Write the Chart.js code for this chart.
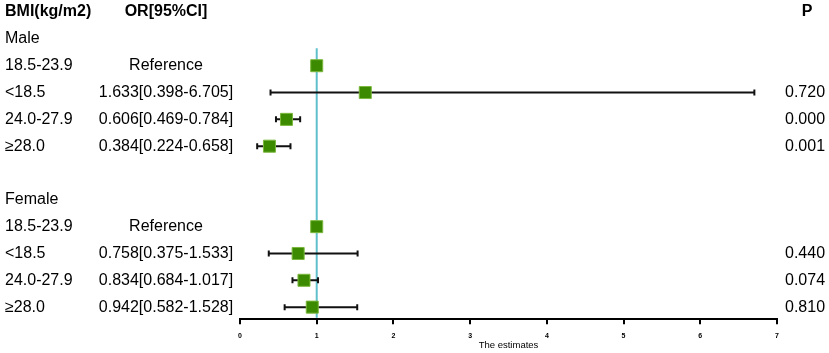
<!DOCTYPE html>
<html>
<head>
<meta charset="utf-8">
<script src="https://cdn.jsdelivr.net/npm/chart.js@4.4.1/dist/chart.umd.min.js"></script>
<style>
  body { margin: 0; background: #fff; }
  #wrap { width: 829px; height: 353px; }
</style>
</head>
<body>
<div id="wrap"><canvas id="forest"></canvas></div>
<script>
// rows from top to bottom, index = row position on the y scale
const rowNames = ['BMI(kg/m2)', 'Male', '18.5-23.9', '<18.5', '24.0-27.9', '≥28.0', '', 'Female', '18.5-23.9', '<18.5', '24.0-27.9', '≥28.0'];
const orText = ['OR[95%CI]', '', 'Reference', '1.633[0.398-6.705]', '0.606[0.469-0.784]', '0.384[0.224-0.658]', '', '', 'Reference', '0.758[0.375-1.533]', '0.834[0.684-1.017]', '0.942[0.582-1.528]'];
const pText = ['P', '', '', '0.720', '0.000', '0.001', '', '', '', '0.440', '0.074', '0.810'];
const estimate = [null, null, 1, 1.633, 0.606, 0.384, null, null, 1, 0.758, 0.834, 0.942];
const lower = [null, null, null, 0.398, 0.469, 0.224, null, null, null, 0.375, 0.684, 0.582];
const upper = [null, null, null, 6.705, 0.784, 0.658, null, null, null, 1.533, 1.017, 1.528];
const xTicks = [0, 1, 2, 3, 4, 5, 6, 7];
const refValue = 1;

const pointData = [];
const ciData = [];
estimate.forEach(function(v, i) {
    if (v !== null) pointData.push({x: v, y: i});
    if (lower[i] !== null) {
        ciData.push({x: lower[i], y: i}, {x: upper[i], y: i}, {x: null, y: null});
    }
});

const font = '"Liberation Sans", Arial, sans-serif';

// text columns drawn next to the plot, rows placed with the y scale
const textColumns = {
    id: 'textColumns',
    afterDraw(chart) {
        const ctx = chart.ctx;
        const y = chart.scales.y;
        ctx.save();
        ctx.fillStyle = '#000';
        ctx.textBaseline = 'middle';
        rowNames.forEach(function(name, i) {
            const py = y.getPixelForValue(i);
            ctx.font = (i === 0 ? 'bold ' : '') + '16px ' + font;
            ctx.textAlign = 'left';
            ctx.fillText(name, 5, py);
            ctx.textAlign = 'center';
            ctx.fillText(orText[i], 166, py);
            if (i === 0) {
                ctx.fillText(pText[i], 807, py);
            } else {
                ctx.textAlign = 'left';
                ctx.fillText(pText[i], 785, py);
            }
        });
        ctx.restore();
    }
};

new Chart(document.getElementById('forest'), {
    type: 'scatter',
    data: {
        datasets: [{
            label: 'estimate',
            data: pointData,
            pointStyle: 'rect',
            pointRadius: 8.5,
            backgroundColor: '#3c8a00',
            borderColor: '#7cb83e',
            borderWidth: 1,
            order: 1
        }, {
            type: 'line',
            label: 'ci',
            data: ciData,
            borderColor: '#111',
            borderWidth: 2,
            spanGaps: false,
            pointStyle: 'line',
            rotation: 90,
            pointRadius: 3,
            pointBorderWidth: 2,
            pointBorderColor: '#111',
            order: 2
        }, {
            type: 'line',
            label: 'reference',
            data: [{x: refValue, y: 1.35}, {x: refValue, y: 11.4}],
            borderColor: '#5fbfcb',
            borderWidth: 2,
            pointRadius: 0,
            order: 3
        }]
    },
    options: {
        responsive: true,
        maintainAspectRatio: false,
        animation: false,
        layout: { autoPadding: false, padding: { left: 240, right: 52, top: 0, bottom: 0 } },
        plugins: { legend: { display: false }, tooltip: { enabled: false } },
        scales: {
            x: {
                type: 'linear',
                min: xTicks[0],
                max: xTicks[xTicks.length - 1],
                afterBuildTicks: function(scale) {
                    scale.ticks = xTicks.map(v => ({value: v}));
                },
                ticks: {
                    color: '#000',
                    padding: 8,
                    font: { family: font, size: 7, weight: 'bold' }
                },
                grid: {
                    drawOnChartArea: false,
                    drawTicks: true,
                    tickLength: 5,
                    color: '#000',
                    lineWidth: 2
                },
                border: { display: true, color: '#000', width: 2 },
                title: {
                    display: true,
                    text: 'The estimates',
                    color: '#000',
                    padding: { top: -9, bottom: 2 },
                    font: { family: font, size: 9.5 }
                }
            },
            y: {
                type: 'linear',
                display: false,
                reverse: true,
                min: -0.45,
                max: 11.45
            }
        }
    },
    plugins: [textColumns]
});
</script>
</body>
</html>
